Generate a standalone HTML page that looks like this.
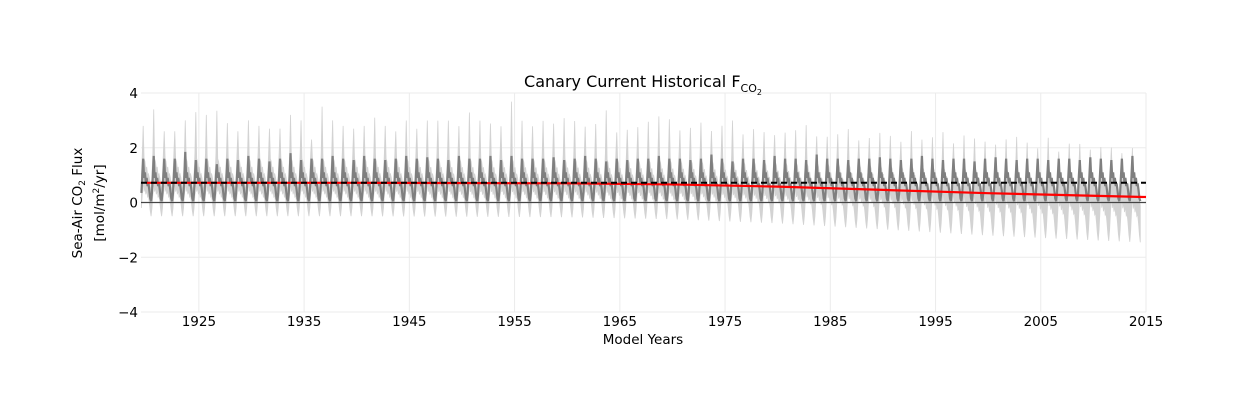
<!DOCTYPE html>
<html><head><meta charset="utf-8">
<style>
body{margin:0;background:#fff;}
svg{display:block;font-family:"DejaVu Sans","Liberation Sans",sans-serif;}
</style></head>
<body>
<svg id="chart" width="1235" height="418" viewBox="0 0 1235 418">
<g id="grid"></g>
<g id="marks"></g>
<g id="axes"></g>
<text x="643" y="87" text-anchor="middle" font-size="16" fill="#000">Canary Current Historical F<tspan font-size="11" dy="5">CO</tspan><tspan font-size="8" dy="3">2</tspan></text>
<g>
<text transform="translate(82,203) rotate(-90)" text-anchor="middle" font-size="13.5">Sea-Air CO<tspan font-size="9" dy="3">2</tspan><tspan dy="-3"> Flux</tspan></text>
<text transform="translate(104,203) rotate(-90)" text-anchor="middle" font-size="13.5">[mol/m<tspan font-size="9" dy="-5">2</tspan><tspan dy="5">/yr]</tspan></text>
</g>
<text x="643" y="344" text-anchor="middle" font-size="13.5">Model Years</text>
</svg>
<script>
const years = Array.from({length:95},(_, i)=>1920+i);
const xTicks = [1925,1935,1945,1955,1965,1975,1985,1995,2005,2015];
const yTicks = [-4,-2,0,2,4];
// control monthly climatology (dark gray), mean ~0.72
const ctrlShape = [0.35,1.0,1.6,0.9,1.1,0.7,0.9,0.6,0.7,0.45,0.15,0.05];
// historical ensemble spread monthly (relative to trend)
const upShape = [1.0,1.8,2.8,1.6,1.5,1.2,1.3,1.0,1.05,0.9,0.6,0.4];
const loShape = [-0.2,0.3,0.8,0.4,0.55,0.3,0.45,0.2,0.25,0.0,-0.3,-0.5];
// annual light-band spike heights
const lightPeak = [2.8,3.4,2.6,2.6,3.0,3.3,3.2,3.35,2.9,2.6,3.0,2.8,2.7,2.7,3.2,3.0,2.3,3.5,3.0,2.8,2.7,2.8,3.1,2.8,2.6,3.0,2.7,3.0,3.0,3.0,2.8,3.3,3.0,2.9,2.8,3.7,3.0,2.8,3.0,2.9,3.1,3.0,2.8,2.9,3.4,2.6,2.7,2.8,3.0,3.2,3.1,2.7,2.8,3.0,2.7,2.9,3.1,2.6,2.8,2.7,2.6,2.7,2.8,3.0,2.6,2.6,2.7,2.9,2.5,2.6,2.8,2.7,2.5,2.9,2.6,2.7,2.9,2.5,2.8,2.7,2.6,2.5,2.7,2.8,2.6,2.4,2.8,2.3,2.6,2.6,2.4,2.5,2.5,2.3,2.5];
// annual control peaks
const darkPeak = [1.6,1.7,1.6,1.6,1.85,1.55,1.6,1.4,1.6,1.55,1.7,1.6,1.5,1.6,1.8,1.55,1.6,1.6,1.7,1.6,1.55,1.7,1.6,1.55,1.6,1.7,1.6,1.65,1.6,1.55,1.7,1.6,1.6,1.7,1.55,1.7,1.6,1.6,1.6,1.65,1.55,1.6,1.7,1.6,1.5,1.6,1.55,1.6,1.6,1.7,1.6,1.6,1.55,1.6,1.75,1.6,1.5,1.6,1.6,1.55,1.7,1.6,1.6,1.55,1.75,1.6,1.6,1.55,1.6,1.6,1.65,1.6,1.55,1.6,1.7,1.6,1.55,1.6,1.6,1.5,1.6,1.65,1.6,1.55,1.6,1.6,1.55,1.6,1.6,1.55,1.65,1.6,1.55,1.6,1.7];
// red trend (historical mean)
const trendYears = [1920,1940,1960,1970,1980,1990,2000,2015];
const trendVals = [0.72,0.72,0.70,0.66,0.58,0.46,0.34,0.2];
const ctrlMean = 0.72;

const NS="http://www.w3.org/2000/svg";
const X0=1919.5,X1=2015,PX0=141,PX1=1146,PY0=312,PY1=93;
const xs=v=>PX0+(v-X0)/(X1-X0)*(PX1-PX0);
const ys=v=>PY0-(v+4)/8*(PY0-PY1);
function trendAt(t){for(let i=0;i<trendYears.length-1;i++){if(t<=trendYears[i+1]){const f=(t-trendYears[i])/(trendYears[i+1]-trendYears[i]);return trendVals[i]+f*(trendVals[i+1]-trendVals[i]);}}return trendVals[trendVals.length-1];}
function mk(tag,attrs,parent){const e=document.createElementNS(NS,tag);for(const k in attrs)e.setAttribute(k,attrs[k]);parent.appendChild(e);return e;}
const grid=document.getElementById('grid'),marks=document.getElementById('marks'),axes=document.getElementById('axes');
xTicks.forEach(t=>{
 const l=mk('line',{x1:xs(t),x2:xs(t),y1:PY1,y2:PY0,stroke:'#ebebeb','stroke-width':1},grid);
 
 
 const tx=mk('text',{x:xs(t),y:PY0+14,'text-anchor':'middle','font-size':13.5},axes);
 tx.textContent=t;
 
 
});
yTicks.forEach(t=>{
 const l=mk('line',{x1:PX0,x2:PX1,y1:ys(t),y2:ys(t),stroke:'#ebebeb','stroke-width':1},grid);
 
 
 const tx=mk('text',{x:PX0-3,y:ys(t)+5,'text-anchor':'end','font-size':13.5},axes);
 tx.textContent=(t<0?'\u2212'+(-t):t);
 
 
});
const upPts=[],loPts=[],ctrlPts=[];
years.forEach((y,i)=>{
 for(let m=0;m<12;m++){
  const t=y-0.5+(m+0.5)/12;
  const off=trendAt(t)-ctrlMean;
  const up=m===2?lightPeak[i]:upShape[m];
  const spread=1+Math.max(0,-off)*0.7;
  upPts.push([xs(t),ys(up+off)]);
  loPts.push([xs(t),ys(ctrlMean+(loShape[m]-ctrlMean)*spread+off)]);
  const c=m===2?darkPeak[i]:ctrlShape[m];
  ctrlPts.push([xs(t),ys(c)]);
 }
});
const band=mk('path',{d:'M'+upPts.map(p=>p.join(',')).join('L')+'L'+loPts.slice().reverse().map(p=>p.join(',')).join('L')+'Z',fill:'#d3d3d3',stroke:'#d3d3d3','stroke-width':0.8},marks);


const zero=mk('line',{x1:PX0,x2:PX1,y1:ys(0),y2:ys(0),stroke:'#444','stroke-width':1.2},marks);


const ctrl=mk('path',{d:'M'+ctrlPts.map(p=>p.join(',')).join('L'),fill:'none',stroke:'#7f7f7f','stroke-width':2.2},marks);


const red=mk('path',{d:'M'+trendYears.map(t=>xs(Math.max(t,X0))+','+ys(trendAt(t))).join('L'),fill:'none',stroke:'#ff0000','stroke-width':2.2},marks);


const dash=mk('line',{x1:PX0,x2:PX1,y1:ys(ctrlMean),y2:ys(ctrlMean),stroke:'#000','stroke-width':2,'stroke-dasharray':'6,4'},marks);


</script>
</body></html>
